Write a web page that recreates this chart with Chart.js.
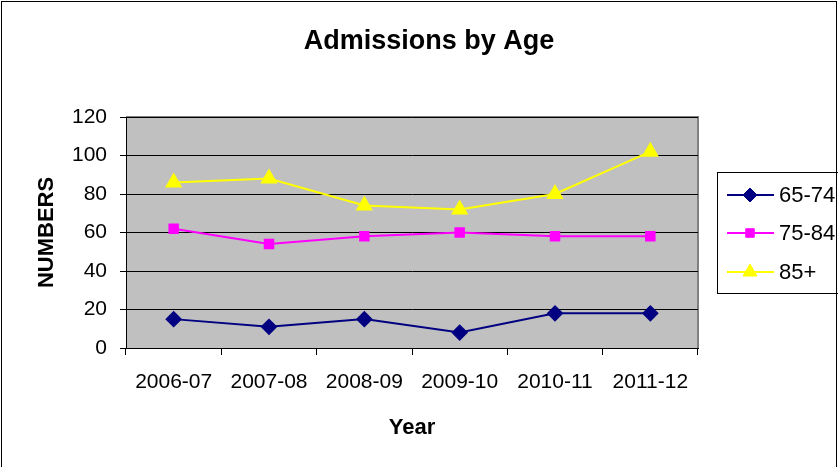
<!DOCTYPE html>
<html>
<head>
<meta charset="utf-8">
<script src="https://cdn.jsdelivr.net/npm/chart.js@4.4.1/dist/chart.umd.min.js"></script>
<style>
  html, body { margin: 0; padding: 0; background: #fff; }
  #wrap { width: 838px; height: 467px; }
</style>
</head>
<body>
<div id="wrap"><canvas id="c" width="838" height="467"></canvas></div>
<script>
var years = ['2006-07', '2007-08', '2008-09', '2009-10', '2010-11', '2011-12'];
var age6574 = [15, 11, 15, 8, 18, 18];
var age7584 = [62, 54, 58, 60, 58, 58];
var age85 = [86, 88, 74, 72, 80, 102];
var yTicks = [0, 20, 40, 60, 80, 100, 120];

var FONT = '"Liberation Sans", Arial, sans-serif';

// grey plot background, frame, title and the boxed legend
var decor = {
  id: 'decor',
  beforeDraw: function (chart) {
    var ctx = chart.ctx, a = chart.chartArea;
    ctx.save();
    ctx.fillStyle = '#fff';
    ctx.fillRect(0, 0, chart.width, chart.height);
    ctx.fillStyle = '#c0c0c0';
    ctx.fillRect(a.left, a.top, a.right - a.left, a.bottom - a.top);
    ctx.strokeStyle = '#808080';
    ctx.lineWidth = 2;
    ctx.beginPath();
    ctx.moveTo(a.left, a.top); ctx.lineTo(a.right, a.top); ctx.lineTo(a.right, a.bottom);
    ctx.stroke();
    ctx.restore();
  },
  afterDraw: function (chart) {
    var ctx = chart.ctx;
    ctx.save();
    // outer frame
    ctx.strokeStyle = '#000';
    ctx.lineWidth = 1;
    ctx.strokeRect(1.5, 1.5, chart.width - 3, chart.height + 10);
    // title
    ctx.fillStyle = '#000';
    ctx.font = 'bold 27px ' + FONT;
    ctx.textAlign = 'center';
    ctx.textBaseline = 'middle';
    ctx.fillText('Admissions by Age', 429, 42);
    // legend
    ctx.strokeRect(717.5, 172.5, 130, 121);
    ctx.font = '22px ' + FONT;
    ctx.textAlign = 'left';
    var rows = [195, 233, 272];
    chart.data.datasets.forEach(function (ds, i) {
      var y = rows[i];
      ctx.strokeStyle = ds.borderColor;
      ctx.lineWidth = 2;
      ctx.beginPath(); ctx.moveTo(727, y); ctx.lineTo(774, y); ctx.stroke();
      ctx.fillStyle = ds.pointBackgroundColor;
      ctx.strokeStyle = ds.pointBackgroundColor;
      ctx.lineWidth = 1;
      Chart.helpers.drawPoint(ctx, {
        pointStyle: ds.pointStyle, radius: ds.pointRadius, rotation: 0, borderWidth: 1
      }, 750, y);
      ctx.fillStyle = '#000';
      ctx.fillText(ds.label, 779, y + 1);
    });
    ctx.restore();
  }
};

function series(label, data, color, style, r) {
  return {
    label: label, data: data,
    borderColor: color, backgroundColor: color,
    pointBackgroundColor: color, pointBorderColor: color,
    pointStyle: style, pointRadius: r, pointHoverRadius: r,
    borderWidth: 2, tension: 0
  };
}

new Chart(document.getElementById('c'), {
  type: 'line',
  data: {
    labels: years,
    datasets: [
      series('65-74', age6574, '#000080', 'rectRot', 7),
      series('75-84', age7584, '#ff00ff', 'rect', 6),
      series('85+', age85, '#ffff00', 'triangle', 8)
    ]
  },
  options: {
    responsive: false,
    animation: false,
    layout: { padding: { left: 30, right: 140, top: 117, bottom: 22 } },
    plugins: { legend: { display: false }, title: { display: false }, tooltip: { enabled: false } },
    scales: {
      x: {
        offset: true,
        grid: { offset: true, drawOnChartArea: false, color: '#000', tickLength: 7, lineWidth: 1 },
        border: { color: '#000', width: 1 },
        ticks: { color: '#000', font: { family: FONT, size: 21 }, padding: 15, maxRotation: 0, autoSkip: false },
        title: { display: true, text: 'Year', color: '#000', font: { family: FONT, size: 22, weight: 'bold' } },
        afterFit: function (s) { s.height = 97; }
      },
      y: {
        min: 0, max: 120,
        afterBuildTicks: function (s) { s.ticks = yTicks.map(function (v) { return { value: v }; }); },
        grid: { color: '#000', tickLength: 6, lineWidth: 1 },
        border: { color: '#000', width: 1 },
        ticks: { color: '#000', font: { family: FONT, size: 21 }, padding: 13 },
        title: { display: true, text: 'NUMBERS', color: '#000', font: { family: FONT, size: 22, weight: 'bold' } },
        afterFit: function (s) { s.width = 96; }
      }
    }
  },
  plugins: [decor]
});
</script>
</body>
</html>
